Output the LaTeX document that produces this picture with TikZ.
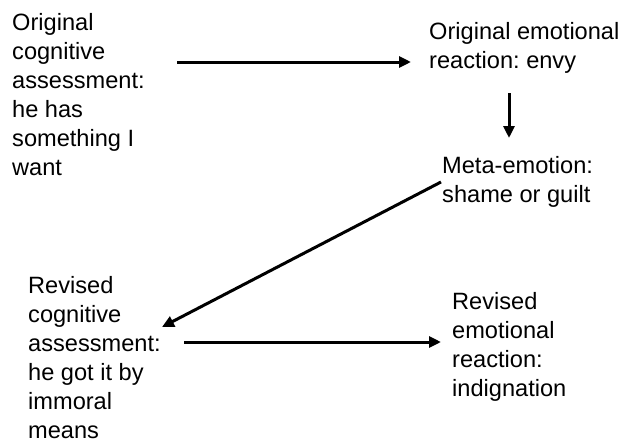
\documentclass[tikz,border=0pt]{standalone}
\usepackage{fontspec}
\setmainfont{Liberation Sans}
\frenchspacing
\usetikzlibrary{arrows.meta}
\begin{document}
\begin{tikzpicture}[x=1pt,y=-1pt,
  txt/.style={anchor=north west,inner sep=0pt,align=left,font=\fontsize{23.6}{29}\selectfont\frenchspacing},
  arr/.style={line width=3pt,-{Triangle[length=12pt,width=11pt]}}]
\useasboundingbox (0,0) rectangle (623,439);
\node[txt] (n1) at (12,12.8) {Original\\cognitive\\assessment:\\he has\\something I\\want};
\node[txt] (n2) at (429,22.5) {Original emotional\\reaction: envy};
\node[txt] (n3) at (442,155.8) {Meta-emotion:\\shame or guilt};
\node[txt] (n4) at (28,276.5) {Revised\\cognitive\\assessment:\\he got it by\\immoral\\means};
\node[txt] (n5) at (452,291.8) {Revised\\emotional\\reaction:\\indignation};
\coordinate (a1s) at (177,62);
\coordinate (a1e) at (411,62);
\coordinate (a2s) at (509,93);
\coordinate (a2e) at (509,138);
\coordinate (a3s) at (441,182);
\coordinate (a3e) at (162,327);
\coordinate (a4s) at (184,342);
\coordinate (a4e) at (441,342);
\draw[arr] (a1s) -- (a1e);
\draw[arr] (a2s) -- (a2e);
\draw[arr] (a3s) -- (a3e);
\draw[arr] (a4s) -- (a4e);
\end{tikzpicture}
\end{document}
